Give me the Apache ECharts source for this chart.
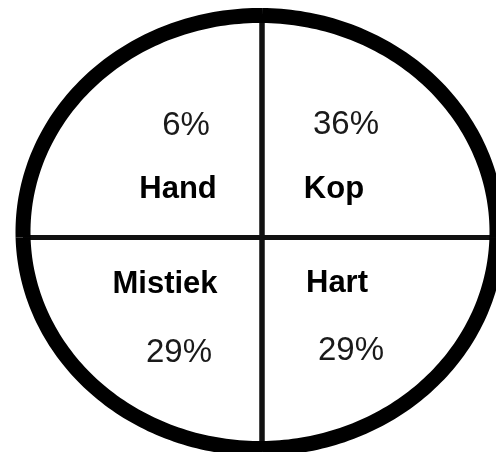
<!DOCTYPE html>
<html>
<head>
<meta charset="utf-8">
<script src="https://cdn.jsdelivr.net/npm/echarts@6/dist/echarts.min.js"></script>
<style>
  html, body { margin: 0; padding: 0; background: #ffffff; }
  #chart { width: 496px; height: 452px; }
</style>
</head>
<body>
<div id="chart"></div>
<script>
// ---- data ----
const categories = ['Hand', 'Kop', 'Mistiek', 'Hart'];
const percentages = [6, 36, 29, 29];

// ---- layout (not data) ----
const ELLIPSE = { cx: 260, cy: 232, rx: 237, ry: 216.5, width: 15 };
const DIVIDER = { x: 262, y: 237.5, width: 5 };
// label offsets relative to the divider crossing: [nameDx, nameDy, pctDx, pctDy]
const LABEL_OFFSETS = [
  [-84, -48, -76, -112],
  [72, -48, 84, -113],
  [-97, 47, -83, 115],
  [75, 46, 89, 113]
];

const chart = echarts.init(document.getElementById('chart'), null, { renderer: 'canvas' });

function quadrantRange(i) {
  const e = ELLIPSE, d = DIVIDER;
  const a = Math.acos((d.x - e.cx) / e.rx);
  const b = Math.asin((d.y - e.cy) / e.ry);
  const tTop = -a, tBottom = a, tRight = b, tLeft = Math.PI - b;
  return [
    [tLeft, tTop + 2 * Math.PI], // top-left
    [tTop, tRight],              // top-right
    [tBottom, tLeft],            // bottom-left
    [tRight, tBottom]            // bottom-right
  ][i];
}

function renderItem(params, api) {
  const i = params.dataIndex;
  const e = ELLIPSE, d = DIVIDER;
  const [t0, t1] = quadrantRange(i);
  const pts = [];
  const n = 80;
  for (let k = 0; k <= n; k++) {
    const t = t0 + (t1 - t0) * k / n;
    pts.push([e.cx + e.rx * Math.cos(t), e.cy + e.ry * Math.sin(t)]);
  }
  const first = pts[0], last = pts[pts.length - 1];
  const off = LABEL_OFFSETS[i];
  const pct = api.value(1);
  return {
    type: 'group',
    children: [
      { type: 'polygon', shape: { points: pts.concat([[d.x, d.y]]) },
        style: { fill: '#ffffff', stroke: null }, z2: 1 },
      { type: 'line', shape: { x1: d.x, y1: d.y, x2: first[0], y2: first[1] },
        style: { stroke: '#111111', lineWidth: d.width }, z2: 2 },
      { type: 'line', shape: { x1: d.x, y1: d.y, x2: last[0], y2: last[1] },
        style: { stroke: '#111111', lineWidth: d.width }, z2: 2 },
      { type: 'polyline', shape: { points: pts },
        style: { stroke: '#000000', lineWidth: e.width, fill: null, lineCap: 'butt', lineJoin: 'round' }, z2: 3 },
      { type: 'text', x: d.x + off[0], y: d.y + off[1],
        style: { text: categories[i], font: 'bold 31px "Liberation Sans", Arial, sans-serif',
                 fill: '#000000', align: 'center', verticalAlign: 'middle' }, z2: 4 },
      { type: 'text', x: d.x + off[2], y: d.y + off[3],
        style: { text: pct + '%', font: '33px "Liberation Sans", Arial, sans-serif',
                 fill: '#1a1a1a', align: 'center', verticalAlign: 'middle' }, z2: 4 }
    ]
  };
}

chart.setOption({
  animation: false,
  backgroundColor: '#ffffff',
  series: [{
    type: 'custom',
    coordinateSystem: 'none',
    renderItem: renderItem,
    data: categories.map((c, i) => [c, percentages[i]])
  }]
});
</script>
</body>
</html>
